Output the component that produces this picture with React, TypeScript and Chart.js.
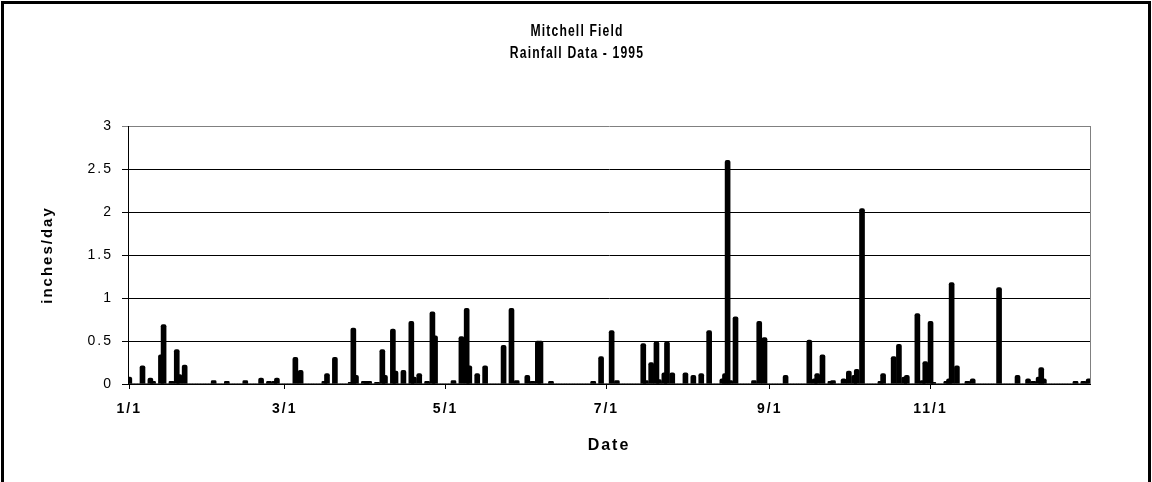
import React, { useEffect, useRef } from 'react';
import { Chart, registerables } from 'chart.js';

Chart.register(...registerables);

// ---- data ----
const MONTH_LENGTHS = [31, 28, 31, 30, 31, 30, 31, 31, 30, 31, 30, 31];

const RAIN_DATES = [
  '1/1', '1/6', '1/9', '1/10', '1/13', '1/14', '1/17', '1/19', '1/20', '1/22',
  '2/2', '2/7', '2/14', '2/20', '2/23', '2/25', '2/26',
  '3/5', '3/7', '3/16', '3/17', '3/20', '3/26', '3/27', '3/28', '3/31',
  '4/1', '4/2', '4/5', '4/7', '4/8', '4/11', '4/12', '4/15', '4/18', '4/19', '4/21', '4/24', '4/26', '4/27',
  '5/4', '5/7', '5/9', '5/10', '5/13', '5/16', '5/23', '5/26', '5/28',
  '6/1', '6/3', '6/5', '6/6', '6/10', '6/26', '6/29',
  '7/3', '7/5', '7/15', '7/16', '7/18', '7/20', '7/21', '7/23', '7/24', '7/26', '7/31',
  '8/3', '8/6', '8/9', '8/14', '8/15', '8/16', '8/17', '8/19', '8/26', '8/28', '8/30',
  '9/7', '9/16', '9/18', '9/19', '9/21', '9/24', '9/25', '9/29',
  '10/1', '10/3', '10/4', '10/6', '10/13', '10/14', '10/18', '10/20', '10/22', '10/23', '10/27', '10/29', '10/30',
  '11/1', '11/2', '11/7', '11/8', '11/9', '11/11', '11/15', '11/17', '11/27',
  '12/4', '12/8', '12/10', '12/12', '12/13', '12/14', '12/26', '12/29', '12/31',
];

const RAIN_INCHES = [
  0.08, 0.21, 0.07, 0.03, 0.34, 0.69, 0.03, 0.40, 0.11, 0.22,
  0.04, 0.03, 0.04, 0.07, 0.03, 0.03, 0.07,
  0.31, 0.16, 0.03, 0.12, 0.31, 0.02, 0.65, 0.10, 0.03,
  0.03, 0.03, 0.02, 0.40, 0.10, 0.64, 0.15, 0.16, 0.73, 0.08, 0.12, 0.03, 0.84, 0.56,
  0.04, 0.55, 0.88, 0.21, 0.12, 0.21, 0.45, 0.88, 0.04,
  0.10, 0.03, 0.50, 0.50, 0.03, 0.03, 0.32,
  0.62, 0.04, 0.47, 0.04, 0.25, 0.49, 0.05, 0.13, 0.49, 0.13, 0.13,
  0.10, 0.12, 0.62, 0.06, 0.12, 2.60, 0.04, 0.78, 0.04, 0.73, 0.54,
  0.10, 0.51, 0.06, 0.12, 0.34, 0.03, 0.04, 0.06,
  0.15, 0.10, 0.17, 2.04, 0.03, 0.12, 0.32, 0.46, 0.08, 0.10, 0.82, 0.04, 0.26,
  0.73, 0.02, 0.03, 0.06, 1.18, 0.21, 0.03, 0.06, 1.12,
  0.10, 0.06, 0.03, 0.08, 0.19, 0.06, 0.03, 0.03, 0.06,
];

const X_TICK_LABELS = ['1/1', '3/1', '5/1', '7/1', '9/1', '11/1'];
const Y_TICK_LABELS = ['0', '0.5', '1', '1.5', '2', '2.5', '3'];
const Y_MIN = 0;
const Y_MAX = 3;
const Y_STEP = 0.5;

const TITLE_LINES = ['Mitchell Field', 'Rainfall Data - 1995'];
const X_TITLE = 'Date';
const Y_TITLE = 'inches/day';

// ---- derived table ----
const DAY_LABELS: string[] = [];
MONTH_LENGTHS.forEach((n, m) => {
  for (let d = 1; d <= n; d++) DAY_LABELS.push(`${m + 1}/${d}`);
});
const DAILY_RAIN = DAY_LABELS.map((l) => {
  const i = RAIN_DATES.indexOf(l);
  return i >= 0 ? RAIN_INCHES[i] : 0;
});
const TICK_INDEXES = X_TICK_LABELS.map((l) => DAY_LABELS.indexOf(l));

const FONT = '"Liberation Sans", Arial, Helvetica, sans-serif';
const SPACING = '2px';

const spacingPlugin = {
  id: 'spacing',
  beforeUpdate(chart: any) { chart.ctx.letterSpacing = SPACING; },
  beforeLayout(chart: any) { chart.ctx.letterSpacing = SPACING; },
  beforeDraw(chart: any) { chart.ctx.letterSpacing = SPACING; },
};

const framePlugin = {
  id: 'frame',
  afterDraw(chart: any) {
    const { ctx, chartArea, width } = chart;
    ctx.save();
    ctx.strokeStyle = '#808080';
    ctx.lineWidth = 1;
    ctx.beginPath();
    ctx.moveTo(Math.round(chartArea.right) + 0.5, chartArea.top);
    ctx.lineTo(Math.round(chartArea.right) + 0.5, chartArea.bottom);
    ctx.stroke();
    ctx.restore();

    // chart title (condensed, slightly spaced)
    const lines = [
      { text: TITLE_LINES[0], y: 32 },
      { text: TITLE_LINES[1], y: 54 },
    ];
    lines.forEach(({ text, y }) => {
      ctx.save();
      ctx.letterSpacing = '1.5px';
      ctx.fillStyle = '#000';
      ctx.font = `bold 16px ${FONT}`;
      ctx.textAlign = 'center';
      ctx.textBaseline = 'middle';
      ctx.translate(width / 2 + 1, y);
      ctx.scale(0.76, 1);
      ctx.fillText(text, 0, 0);
      ctx.restore();
    });
  },
};

export default function App() {
  const ref = useRef<HTMLCanvasElement>(null);

  useEffect(() => {
    document.documentElement.style.overflow = 'hidden';
    document.body.style.overflow = 'hidden';
    const chart = new Chart(ref.current as HTMLCanvasElement, {
      type: 'bar',
      data: {
        labels: DAY_LABELS,
        datasets: [
          {
            data: DAILY_RAIN,
            backgroundColor: '#000',
            borderWidth: 0,
            barThickness: 5,
            borderRadius: 2,
          },
        ],
      },
      plugins: [spacingPlugin, framePlugin],
      options: {
        responsive: false,
        animation: false,
        layout: { padding: { top: 126, left: 0, right: 0, bottom: 0 } },
        plugins: {
          legend: { display: false },
          tooltip: { enabled: false },
          title: { display: false },
        },
        scales: {
          x: {
            type: 'category',
            offset: true,
            afterBuildTicks: (scale: any) => {
              scale.ticks = scale.ticks.filter((t: any) => TICK_INDEXES.includes(t.value));
            },
            afterFit: (scale: any) => { scale.height = 98; },
            grid: {
              drawOnChartArea: false,
              drawTicks: true,
              tickLength: 5,
              offset: false,
              color: '#000',
            },
            border: { display: true, color: '#000', width: 1 },
            ticks: {
              autoSkip: false,
              maxRotation: 0,
              padding: 12,
              color: '#000',
              font: { family: FONT, size: 14, weight: 'bold' },
            },
            title: {
              display: true,
              text: X_TITLE,
              color: '#000',
              font: { family: FONT, size: 16, weight: 'bold' },
              padding: { top: 0, bottom: 27 },
            },
          },
          y: {
            min: Y_MIN,
            max: Y_MAX,
            afterFit: (scale: any) => { scale.width = 128; },
            ticks: {
              stepSize: Y_STEP,
              padding: 9,
              color: '#000',
              font: { family: FONT, size: 14 },
              callback: (_v: any, i: number) => Y_TICK_LABELS[i],
            },
            grid: {
              color: (ctx: any) => (ctx.tick && ctx.tick.value === Y_MAX ? '#808080' : '#000'),
              lineWidth: 1,
              tickLength: 6,
            },
            border: { display: true, color: '#000', width: 1 },
            title: {
              display: true,
              text: Y_TITLE,
              color: '#000',
              font: { family: FONT, size: 15, weight: 'bold' },
              padding: { top: 39, bottom: 0 },
            },
          },
          yRight: {
            position: 'right',
            display: true,
            afterFit: (scale: any) => { scale.width = 62; },
            grid: { display: false, drawTicks: false },
            ticks: { display: false },
            border: { display: false },
          },
        },
      },
    } as any);
    return () => chart.destroy();
  }, []);

  return (
    <div style={{ position: 'fixed', left: 0, top: 0, width: 1152, height: 482, background: '#fff' }}>
      <canvas ref={ref} width={1152} height={482} style={{ display: 'block' }} />
      <div
        style={{
          position: 'absolute',
          left: 1,
          top: 1,
          width: 1150,
          height: 520,
          boxSizing: 'border-box',
          border: '3px solid #000',
          borderBottom: 'none',
          pointerEvents: 'none',
        }}
      />
    </div>
  );
}
